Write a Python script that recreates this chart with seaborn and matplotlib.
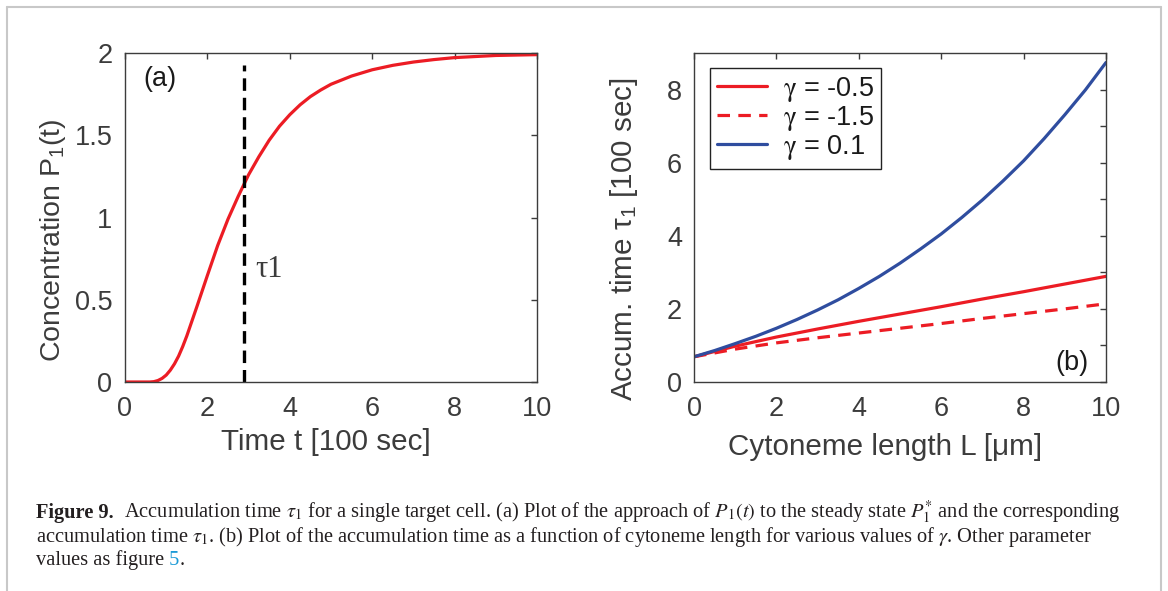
import numpy as np
import pandas as pd
import matplotlib
matplotlib.use("Agg")
import matplotlib.pyplot as plt
import seaborn as sns
from matplotlib.lines import Line2D
from matplotlib.ticker import FixedLocator

# ---------------- data ----------------
# panel (a): concentration P1(t)
time_a = [0.0, 0.5, 0.6, 0.7, 0.8, 0.9, 1.0, 1.1, 1.2, 1.3, 1.4, 1.5, 1.75, 2.0,
          2.25, 2.5, 2.75, 3.0, 3.25, 3.5, 3.75, 4.0, 4.25, 4.5, 4.75, 5.0, 5.5,
          6.0, 6.5, 7.0, 7.5, 8.0, 9.0, 10.0]
conc_a = [0.0, 0.0, 0.0, 0.002, 0.009, 0.022, 0.042, 0.072, 0.11, 0.157, 0.215,
          0.28, 0.462, 0.648, 0.83, 0.99, 1.13, 1.26, 1.37, 1.47, 1.555, 1.625,
          1.685, 1.735, 1.775, 1.81, 1.86, 1.898, 1.925, 1.945, 1.96, 1.972,
          1.985, 1.99]
tau1 = 2.9
tau_line_y = [0.0, 1.93]

# panel (b): accumulation time vs cytoneme length
length_b = [0, 1, 2, 3, 4, 5, 6, 7, 8, 9, 10]
tau_g_m05 = [0.69, 0.98, 1.23, 1.45, 1.66, 1.86, 2.06, 2.27, 2.47, 2.68, 2.89]
tau_g_m15 = [0.69, 0.90, 1.07, 1.21, 1.34, 1.47, 1.60, 1.74, 1.87, 2.00, 2.14]
length_blue = [0, 0.5, 1, 1.5, 2, 2.5, 3, 3.5, 4, 4.5, 5, 5.5, 6, 6.5, 7, 7.5, 8,
               8.5, 9, 9.5, 10]
tau_g_p01 = [0.69, 0.86, 1.05, 1.25, 1.47, 1.71, 1.97, 2.25, 2.56, 2.89, 3.25,
             3.64, 4.05, 4.50, 4.98, 5.50, 6.05, 6.66, 7.31, 7.99, 8.74]
series_labels = ["γ = -0.5", "γ = -1.5", "γ = 0.1"]
legend_labels = [r"$\mathrm{\gamma}$ = -0.5", r"$\mathrm{\gamma}$ = -1.5",
                 r"$\mathrm{\gamma}$ = 0.1"]

xticks_a = [0, 2, 4, 6, 8, 10]
yticks_a = [0, 0.5, 1, 1.5, 2]
yticklabels_a = ["0", "0.5", "1", "1.5", "2"]
xticks_b = [0, 2, 4, 6, 8, 10]
yticks_b = [0, 2, 4, 6, 8]
yminor_b = [1, 3, 5, 7]

# ---------------- style ----------------
RED = "#ec1c24"
BLUE = "#2f4d9f"
GREY = "#3c3c3c"
W, H = 1168, 591

sns.set_theme(style="white")
plt.rcParams.update({
    "font.family": ["Liberation Sans", "DejaVu Sans"],
    "mathtext.fontset": "stix",
    "lines.scale_dashes": False,
    "axes.edgecolor": GREY,
    "axes.linewidth": 1.0,
    "axes.labelcolor": GREY,
    "xtick.color": GREY,
    "ytick.color": GREY,
})

fig = plt.figure(figsize=(W / 100, H / 100), dpi=100)
fig.patch.set_facecolor("white")
axA = fig.add_axes([125 / W, 1 - 382 / H, 412 / W, 329 / H])
axB = fig.add_axes([694 / W, 1 - 382 / H, 412 / W, 329 / H])

TICK_FS = 19.5
LABEL_FS = 21.3

def style_axes(ax, ypad):
    ax.set_facecolor("white")
    for s in ax.spines.values():
        s.set_visible(True)
        s.set_color(GREY)
        s.set_linewidth(1.0)
    ax.tick_params(which="both", direction="in", length=4, width=1,
                   top=True, right=True, labelsize=TICK_FS, colors=GREY)
    ax.tick_params(axis="y", pad=ypad)
    ax.tick_params(axis="x", pad=10)

# ---------------- panel (a) ----------------
dfA = pd.DataFrame({"t": time_a, "P": conc_a})
sns.lineplot(data=dfA, x="t", y="P", ax=axA, color=RED, linewidth=2.3,
             estimator=None, sort=False)
axA.plot([tau1, tau1], tau_line_y, color="black", linewidth=2.4,
         dashes=(9, 5))
axA.set_xlim(0, 10)
axA.set_ylim(0, 2)
axA.set_xticks(xticks_a)
axA.set_yticks(yticks_a)
axA.set_yticklabels(yticklabels_a)
style_axes(axA, 9)
axA.set_xlabel("Time t [100 sec]", fontsize=LABEL_FS, color=GREY)
axA.set_ylabel(r"Concentration $\mathregular{P_1}$(t)", fontsize=20.5, color=GREY)
axA.xaxis.set_label_coords(0.488, -0.14)
axA.yaxis.set_label_coords(-0.138, 0.43)
axA.text(0.44, 1.84, "(a)", fontsize=TICK_FS, color="#1a1a1a", va="center", ha="left")
axA.text(3.16, 0.64, "τ1", fontsize=22, color=GREY, va="baseline", ha="left",
         family=["Liberation Serif", "DejaVu Serif"])

# ---------------- panel (b) ----------------
dfB = pd.concat([
    pd.DataFrame({"L": length_b, "tau": tau_g_m05, "gamma": series_labels[0]}),
    pd.DataFrame({"L": length_b, "tau": tau_g_m15, "gamma": series_labels[1]}),
    pd.DataFrame({"L": length_blue, "tau": tau_g_p01, "gamma": series_labels[2]}),
], ignore_index=True)
sns.lineplot(data=dfB, x="L", y="tau", hue="gamma", style="gamma",
             hue_order=series_labels, style_order=series_labels,
             palette={series_labels[0]: RED, series_labels[1]: RED, series_labels[2]: BLUE},
             dashes={series_labels[0]: "", series_labels[1]: (9, 6), series_labels[2]: ""},
             linewidth=2.3, estimator=None, ax=axB, legend=False)
axB.set_xlim(0, 10)
axB.set_ylim(0, 9)
axB.set_xticks(xticks_b)
axB.set_yticks(yticks_b)
axB.yaxis.set_minor_locator(FixedLocator(yminor_b))
style_axes(axB, 8.5)
axB.set_xlabel("Cytoneme length L [μm]", fontsize=LABEL_FS, color=GREY)
axB.set_ylabel(r"Accum. time $\mathregular{\tau_1}$ [100 sec]", fontsize=LABEL_FS, color=GREY)
axB.xaxis.set_label_coords(0.464, -0.155)
axB.yaxis.set_label_coords(-0.131, 0.435)
axB.text(9.17, 0.52, "(b)", fontsize=TICK_FS, color="#1a1a1a", va="center", ha="center")

handles = axB.get_lines()[:3]
leg = axB.legend(handles, legend_labels,
                 loc="upper left", bbox_to_anchor=(0.039, 0.954), borderaxespad=0,
                 frameon=True, fancybox=False, framealpha=1, edgecolor="#222222",
                 fontsize=19.5, handlelength=1.85, labelspacing=0.0, borderpad=0.25,
                 handletextpad=0.6)
leg.get_frame().set_linewidth(1.0)
for t in leg.get_texts():
    t.set_color("#1a1a1a")

# ---------------- figure frame ----------------
FRAME = "#c8c8c8"
fig.add_artist(Line2D([7 / W, 7 / W], [0, 1 - 7 / H], color=FRAME, lw=1.5))
fig.add_artist(Line2D([7 / W, 1161 / W], [1 - 7 / H, 1 - 7 / H], color=FRAME, lw=1.5))
fig.add_artist(Line2D([1161 / W, 1161 / W], [0, 1 - 7 / H], color=FRAME, lw=1.5))

# ---------------- caption ----------------
CAP_FS = 14.7
CAP_COL = "#231f20"
serif = ["Liberation Serif", "DejaVu Serif"]
renderer = fig.canvas.get_renderer()

def chain(x_px, base_px, segments):
    x = x_px
    for txt, kw in segments:
        t = fig.text(x / W, 1 - base_px / H, txt, ha="left", va="baseline",
                     fontsize=CAP_FS, color=kw.get("color", CAP_COL),
                     fontweight=kw.get("weight", "normal"), family=serif)
        bb = t.get_window_extent(renderer)
        x = bb.x1

chain(36, 518, [
    ("Figure 9.", {"weight": "bold"}),
    (r"  Accumulation time $\tau_1$ for a single target cell. (a) Plot of the approach of "
     r"$P_1(t)$ to the steady state $P_1^{*}$ and the corresponding", {}),
])
chain(36, 542, [
    (r"accumulation time $\tau_1$. (b) Plot of the accumulation time as a function of cytoneme "
     r"length for various values of $\gamma$. Other parameter", {}),
])
chain(36, 565, [
    ("values as figure", {}),
    (" 5", {"color": "#1b9ad6"}),
    (".", {}),
])

fig.savefig("out.png", dpi=100, facecolor="white")
